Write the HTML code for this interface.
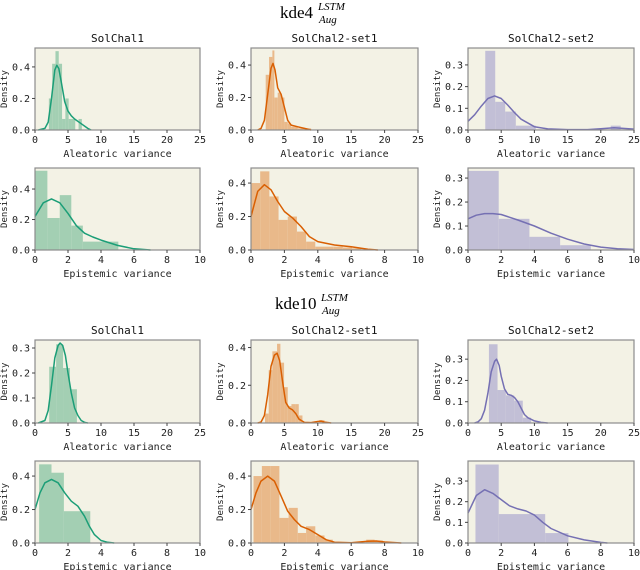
<!DOCTYPE html>
<html><head><meta charset="utf-8">
<style>
html,body{margin:0;padding:0;background:#fff;}
svg{display:block;font-family:"DejaVu Sans Mono","Liberation Mono",monospace;}
</style></head>
<body>
<svg id="fig" width="640" height="570" xmlns="http://www.w3.org/2000/svg">
  <text x="280" y="18" font-family="Liberation Serif, serif" font-size="17">kde4</text>
  <text x="318" y="10" font-family="Liberation Serif, serif" font-style="italic" font-size="11">LSTM</text>
  <text x="319" y="23" font-family="Liberation Serif, serif" font-style="italic" font-size="11">Aug</text>
  <text x="275" y="309" font-family="Liberation Serif, serif" font-size="17">kde10</text>
  <text x="321" y="301" font-family="Liberation Serif, serif" font-style="italic" font-size="11">LSTM</text>
  <text x="322" y="314" font-family="Liberation Serif, serif" font-style="italic" font-size="11">Aug</text>
</svg>
<script>
// ---- data ----
const aleaTicks = [0,5,10,15,20,25];
const epiTicks = [0,2,4,6,8,10];
const yTicks4 = [0.0,0.2,0.4];
const yTicks3 = [0.0,0.1,0.2,0.3];

// Panel A: kde4 SolChal1 aleatoric
const aBinStart = [2.1,2.6,3.1,3.6,4.1,4.6,5.1,5.6,6.6];
const aBinEnd   = [2.6,3.1,3.6,4.1,4.6,5.1,5.6,6.1,7.1];
const aHeights  = [0.2,0.42,0.5,0.42,0.07,0.2,0.07,0.07,0.07];
const aKdeX = [0.5,1.5,2,2.5,3,3.3,3.6,4,4.5,5,5.5,6,7,8,8.5];
const aKdeY = [0,0.01,0.05,0.2,0.38,0.41,0.39,0.3,0.18,0.12,0.09,0.07,0.04,0.01,0];
// Panel B: kde4 SolChal2-set1 aleatoric
const bBinStart = [2.2,2.7,3.2,3.5,4,4.5,5,5.5,6,6.5,7,8];
const bBinEnd   = [2.7,3.2,3.5,4,4.5,5,5.5,6,6.5,7,8,9];
const bHeights  = [0.34,0.45,0.49,0.2,0.23,0.2,0.05,0.04,0.02,0.02,0.01,0.01];
const bKdeX = [1,1.5,2,2.5,3,3.3,3.6,4,4.5,5,5.5,6,7,8,9];
const bKdeY = [0,0.01,0.06,0.22,0.38,0.41,0.37,0.26,0.22,0.14,0.06,0.03,0.02,0.01,0];
// Panel C: kde4 SolChal2-set2 aleatoric
const cBinStart = [2.6,4.1,5.6,7.2,21.5];
const cBinEnd   = [4.1,5.6,7.2,10.2,23];
const cHeights  = [0.365,0.13,0.085,0.02,0.02];
const cKdeX = [0,1,2,3,4,5,6,7,8,10,12,15,18,20,22,25];
const cKdeY = [0.04,0.07,0.11,0.145,0.157,0.145,0.115,0.08,0.05,0.015,0.005,0.002,0.002,0.006,0.01,0.004];
// Panel D: kde4 SolChal1 epistemic
const dBinStart = [0,0.75,1.5,2.2,2.9];
const dBinEnd   = [0.75,1.5,2.2,2.9,5.05];
const dHeights  = [0.52,0.21,0.36,0.16,0.055];
const dKdeX = [0,0.5,1,1.5,2,2.5,3,3.5,4,5,6,7];
const dKdeY = [0.22,0.31,0.335,0.31,0.24,0.16,0.11,0.085,0.065,0.03,0.008,0];
// Panel E: kde4 SolChal2-set1 epistemic
const eBinStart = [0,0.55,1.1,1.65,2.2,2.75,3.3,3.85,4.4,4.95,5.5,6.05];
const eBinEnd   = [0.55,1.1,1.65,2.2,2.75,3.3,3.85,4.4,4.95,5.5,6.05,6.6];
const eHeights  = [0.40,0.47,0.32,0.18,0.20,0.11,0.05,0.02,0.02,0.02,0.015,0.01];
const eKdeX = [0,0.4,0.8,1.2,1.6,2,2.5,3,3.5,4,5,6,7,7.6];
const eKdeY = [0.2,0.35,0.39,0.36,0.29,0.23,0.19,0.14,0.08,0.05,0.03,0.02,0.005,0];
// Panel F: kde4 SolChal2-set2 epistemic
const fBinStart = [0,1.85,3.7,5.55];
const fBinEnd   = [1.85,3.7,5.55,7.4];
const fHeights  = [0.33,0.13,0.055,0.02];
const fKdeX = [0,0.5,1,1.5,2,3,4,5,6,7,8,9,10];
const fKdeY = [0.13,0.145,0.152,0.152,0.148,0.125,0.1,0.07,0.045,0.025,0.012,0.005,0.002];
// Panel G: kde10 SolChal1 aleatoric
const gBinStart = [2.15,3.2,4.25,5.3];
const gBinEnd   = [3.2,4.25,5.3,6.35];
const gHeights  = [0.225,0.315,0.22,0.135];
const gKdeX = [0.5,1.5,2,2.5,3,3.5,3.8,4.2,4.6,5,5.5,6,6.5,7,7.5,8];
const gKdeY = [0,0.01,0.05,0.15,0.26,0.31,0.32,0.31,0.27,0.2,0.12,0.06,0.03,0.01,0.003,0];
// Panel H: kde10 SolChal2-set1 aleatoric
const hBinStart = [2.1,2.65,3.2,3.9,4.4,4.95,5.5,6.05,6.6,7.15,10.2];
const hBinEnd   = [2.65,3.2,3.9,4.4,4.95,5.5,6.05,6.6,7.15,7.7,11];
const hHeights  = [0.05,0.28,0.38,0.42,0.32,0.19,0.09,0.1,0.1,0.04,0.015];
const hKdeX = [1,1.5,2,2.5,3,3.5,3.9,4.3,4.8,5.2,5.7,6.2,6.7,7.2,8,9,10,10.5,11,12];
const hKdeY = [0,0.005,0.04,0.15,0.3,0.36,0.37,0.33,0.2,0.11,0.08,0.07,0.05,0.02,0.003,0.002,0.008,0.01,0.005,0];
// Panel I: kde10 SolChal2-set2 aleatoric
const iBinStart = [3.15,4.45,5.7,6.95,8.25];
const iBinEnd   = [4.45,5.7,6.95,8.25,9.5];
const iHeights  = [0.37,0.155,0.13,0.105,0.025];
const iKdeX = [1,1.5,2,2.5,3,3.5,4,4.3,4.7,5,5.5,6,6.5,7,7.5,8,8.5,9,10,11,12];
const iKdeY = [0,0.005,0.02,0.06,0.14,0.24,0.29,0.3,0.27,0.22,0.16,0.135,0.13,0.12,0.1,0.07,0.04,0.025,0.01,0.003,0];
// Panel J: kde10 SolChal1 epistemic
const jBinStart = [0.25,1.0,1.75];
const jBinEnd   = [1.0,1.75,3.35];
const jHeights  = [0.47,0.42,0.19];
const jKdeX = [0,0.3,0.6,1,1.4,1.8,2.2,2.6,3,3.3,3.6,4,4.4,4.8];
const jKdeY = [0.2,0.3,0.36,0.38,0.36,0.3,0.25,0.22,0.16,0.1,0.05,0.015,0.004,0];
// Panel K: kde10 SolChal2-set1 epistemic
const kBinStart = [0.15,0.65,1.15,1.7,2.25,2.8,3.3,3.85,4.4,6.9,7.4];
const kBinEnd   = [0.65,1.15,1.7,2.25,2.8,3.3,3.85,4.4,4.9,7.4,7.9];
const kHeights  = [0.40,0.46,0.46,0.15,0.21,0.06,0.1,0.045,0.02,0.02,0.015];
const kKdeX = [0,0.3,0.6,1,1.4,1.8,2.2,2.6,3,3.5,4,4.5,5,6,7,7.5,8,9];
const kKdeY = [0.2,0.3,0.37,0.4,0.37,0.28,0.19,0.14,0.1,0.08,0.05,0.02,0.005,0.002,0.01,0.012,0.006,0];
// Panel L: kde10 SolChal2-set2 epistemic
const lBinStart = [0.45,1.85,4.65];
const lBinEnd   = [1.85,4.65,6.05];
const lHeights  = [0.38,0.14,0.048];
const lKdeX = [0,0.5,1,1.5,2,2.5,3,3.5,4,4.5,5,6,7,8,8.4];
const lKdeY = [0.145,0.23,0.258,0.24,0.21,0.18,0.165,0.155,0.135,0.1,0.07,0.035,0.015,0.003,0];

// ---- layout ----
const NS = "http://www.w3.org/2000/svg";
const svg = document.getElementById('fig');
const colX = [[35,200],[251,418],[468,634]];
const rowY = [[48,130],[168,250],[340,423],[461,543]];
const colors = [{line:'#1b9e77',bar:'#a3cfb3'},{line:'#d95f02',bar:'#e9b98a'},{line:'#7570b3',bar:'#c2bfd6'}];
const colTitles = ['SolChal1','SolChal2-set1','SolChal2-set2'];

const panels = [
 {r:0,c:0,xmax:25,ymax:0.52,yt:yTicks4,xt:aleaTicks,bs:aBinStart,be:aBinEnd,h:aHeights,kx:aKdeX,ky:aKdeY,name:'kde4-solchal1-aleatoric'},
 {r:0,c:1,xmax:25,ymax:0.505,yt:yTicks4,xt:aleaTicks,bs:bBinStart,be:bBinEnd,h:bHeights,kx:bKdeX,ky:bKdeY,name:'kde4-solchal2-set1-aleatoric'},
 {r:0,c:2,xmax:25,ymax:0.378,yt:yTicks3,xt:aleaTicks,bs:cBinStart,be:cBinEnd,h:cHeights,kx:cKdeX,ky:cKdeY,name:'kde4-solchal2-set2-aleatoric'},
 {r:1,c:0,xmax:10,ymax:0.538,yt:yTicks4,xt:epiTicks,bs:dBinStart,be:dBinEnd,h:dHeights,kx:dKdeX,ky:dKdeY,name:'kde4-solchal1-epistemic'},
 {r:1,c:1,xmax:10,ymax:0.49,yt:yTicks4,xt:epiTicks,bs:eBinStart,be:eBinEnd,h:eHeights,kx:eKdeX,ky:eKdeY,name:'kde4-solchal2-set1-epistemic'},
 {r:1,c:2,xmax:10,ymax:0.342,yt:yTicks3,xt:epiTicks,bs:fBinStart,be:fBinEnd,h:fHeights,kx:fKdeX,ky:fKdeY,name:'kde4-solchal2-set2-epistemic'},
 {r:2,c:0,xmax:25,ymax:0.332,yt:yTicks3,xt:aleaTicks,bs:gBinStart,be:gBinEnd,h:gHeights,kx:gKdeX,ky:gKdeY,name:'kde10-solchal1-aleatoric'},
 {r:2,c:1,xmax:25,ymax:0.44,yt:yTicks4,xt:aleaTicks,bs:hBinStart,be:hBinEnd,h:hHeights,kx:hKdeX,ky:hKdeY,name:'kde10-solchal2-set1-aleatoric'},
 {r:2,c:2,xmax:25,ymax:0.39,yt:yTicks3,xt:aleaTicks,bs:iBinStart,be:iBinEnd,h:iHeights,kx:iKdeX,ky:iKdeY,name:'kde10-solchal2-set2-aleatoric'},
 {r:3,c:0,xmax:10,ymax:0.49,yt:yTicks4,xt:epiTicks,bs:jBinStart,be:jBinEnd,h:jHeights,kx:jKdeX,ky:jKdeY,name:'kde10-solchal1-epistemic'},
 {r:3,c:1,xmax:10,ymax:0.49,yt:yTicks4,xt:epiTicks,bs:kBinStart,be:kBinEnd,h:kHeights,kx:kKdeX,ky:kKdeY,name:'kde10-solchal2-set1-epistemic'},
 {r:3,c:2,xmax:10,ymax:0.397,yt:yTicks3,xt:epiTicks,bs:lBinStart,be:lBinEnd,h:lHeights,kx:lKdeX,ky:lKdeY,name:'kde10-solchal2-set2-epistemic'}
];

function mk(tag, attrs, parent){
  const e = document.createElementNS(NS, tag);
  for (const k in attrs) e.setAttribute(k, attrs[k]);
  (parent||svg).appendChild(e);
  return e;
}

panels.forEach(p => {
  const [x0,x1] = colX[p.c], [y0,y1] = rowY[p.r];
  const col = colors[p.c];
  const sx = v => x0 + (v/p.xmax)*(x1-x0);
  const sy = v => y1 - (v/p.ymax)*(y1-y0);
  const g = mk('g', {});
  
  
  const bg = mk('rect', {x:x0,y:y0,width:x1-x0,height:y1-y0,fill:'#f3f2e5'}, g);
  
  
  for (let i=0;i<p.h.length;i++){
    const b = mk('rect', {x:sx(p.bs[i]), y:sy(p.h[i]), width:sx(p.be[i])-sx(p.bs[i]), height:y1-sy(p.h[i]), fill:col.bar}, g);
    
    
  }
  let d = '';
  for (let i=0;i<p.kx.length;i++) d += (i?'L':'M') + sx(p.kx[i]).toFixed(1) + ',' + sy(p.ky[i]).toFixed(1);
  const ln = mk('path', {d:d, fill:'none', stroke:col.line, 'stroke-width':1.5, 'stroke-linejoin':'round'}, g);
  
  
  const fr = mk('rect', {x:x0,y:y0,width:x1-x0,height:y1-y0,fill:'none',stroke:'#8c8c8c','stroke-width':1.2}, g);
  
  
  p.xt.forEach(t => {
    mk('line', {x1:sx(t),x2:sx(t),y1:y1,y2:y1+3,stroke:'#444','stroke-width':1}, g);
    const tx = mk('text', {x:sx(t), y:y1+13, 'font-size':10, 'text-anchor':'middle', fill:'#222'}, g);
    tx.textContent = t;
    
    
  });
  p.yt.forEach(t => {
    mk('line', {x1:x0-3,x2:x0,y1:sy(t),y2:sy(t),stroke:'#444','stroke-width':1}, g);
    const ty = mk('text', {x:x0-5, y:sy(t)+3.5, 'font-size':10, 'text-anchor':'end', fill:'#222'}, g);
    ty.textContent = t.toFixed(1);
    
    
  });
  const xl = mk('text', {x:(x0+x1)/2, y:y1+27, 'font-size':10, 'text-anchor':'middle', fill:'#222'}, g);
  xl.textContent = p.xmax===25 ? 'Aleatoric variance' : 'Epistemic variance';
  
  
  const yc = (y0+y1)/2, yx = x0-28;
  const yl = mk('text', {x:yx, y:yc, 'font-size':9, 'text-anchor':'middle', fill:'#222', transform:'rotate(-90 '+yx+' '+yc+')'}, g);
  yl.textContent = 'Density';
  
  
  if (p.r===0 || p.r===2){
    const tt = mk('text', {x:(x0+x1)/2, y:y0-6, 'font-size':11, 'text-anchor':'middle', fill:'#111'}, g);
    tt.textContent = colTitles[p.c];
    
    
  }
});
</script>
</body></html>
